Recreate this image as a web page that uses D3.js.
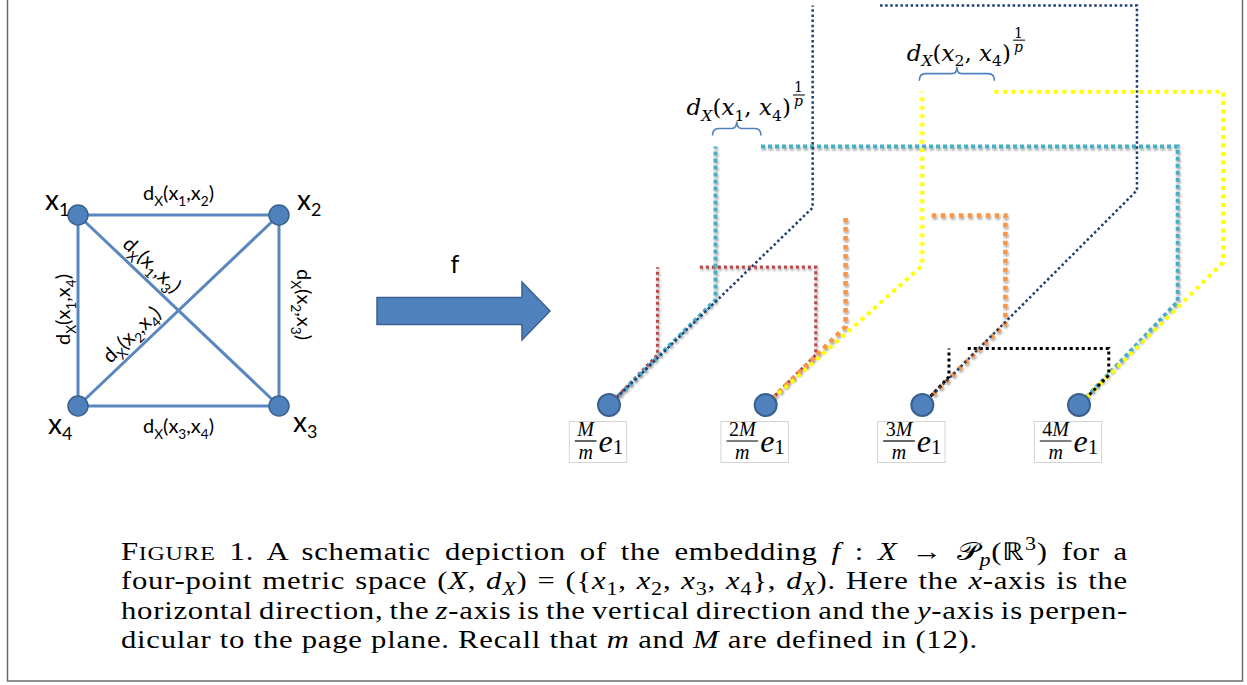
<!DOCTYPE html>
<html><head><meta charset="utf-8">
<script src="https://cdn.jsdelivr.net/npm/d3@7"></script>
<style>body{margin:0;background:#fff;} svg{display:block;}</style>
</head><body>
<svg id="c" width="1247" height="685"></svg>
<script>
// ================= DATA =================
// left: four-point metric space (unit square layout)
const graphNodeNames = ["1","2","3","4"];
const graphNodeCol = [0,1,1,0];
const graphNodeRow = [0,0,1,1];
const graphEdges = [[0,1],[1,2],[2,3],[3,0],[0,2],[1,3]];

// right: embedded points k*M/m e1
const embedK = [1,2,3,4];
const embedNumerators = ["","2","3","4"];

// dotted paths between embedded points (values in units of M/m)
const pathPairs = [[1,2],[1,3],[1,4],[2,3],[2,4],[3,4]];
const runA  = [0.31,1.30,0.68,0.51,1.00,0.17];
const riseA = [0.32,1.26,0.67,0.50,0.89,0.18];
const runB  = [0.32,1.37,0.63,0.53,0.92,0.19];
const riseB = [0.32,1.37,0.66,0.52,0.91,0.19];
const topZ  = [0.88,2.55,1.65,1.21,2.00,0.36];
const gapLen= [0.27,0.43,0.29,0.55,0.46,0.12];
const bracketPaths = [2,4];

// caption lines: [text, kind]
const captionLines = [
  [["F","n"],["IGURE","sc"],[" 1. A schematic depiction of the embedding ","n"],["f","i"],[" : ","n"],["X","i"],[" \u2192 ","n"],["\uD835\uDCAB","n"],["p","isub"],["(\u211D","n"],["3","sup"],[") for a","n"]],
  [["four-point metric space (","n"],["X","i"],[", ","n"],["d","i"],["X","isub"],[") = ({","n"],["x","i"],["1","sub"],[", ","n"],["x","i"],["2","sub"],[", ","n"],["x","i"],["3","sub"],[", ","n"],["x","i"],["4","sub"],["}, ","n"],["d","i"],["X","isub"],["). Here the ","n"],["x","i"],["-axis is the","n"]],
  [["horizontal direction, the ","n"],["z","i"],["-axis is the vertical direction and the ","n"],["y","i"],["-axis is perpen-","n"]],
  [["dicular to the page plane. Recall that ","n"],["m","i"],[" and ","n"],["M","i"],[" are defined in (12).","n"]]
];

// ================= DRAWING =================
const svg = d3.select("#c");
const defs = svg.append("defs");
const f = defs.append("filter").attr("id","shadow").attr("x","-20%").attr("y","-20%").attr("width","140%").attr("height","140%");
f.append("feDropShadow").attr("dx",1).attr("dy",2).attr("stdDeviation",1.3).attr("flood-color","#000").attr("flood-opacity",0.35);

// frame
svg.append("rect").attr("x",7.5).attr("y",-5).attr("width",1235).attr("height",686)
  .attr("fill","none").attr("stroke","#6b6b6b").attr("stroke-width",1.5);

function mathText(parent, pieces, o) {
  const t = parent.append("text").attr("font-family", o.family).attr("font-size", o.size)
    .attr("text-anchor", o.anchor || "start").attr("fill", o.fill || "#000");
  if (o.x !== undefined) t.attr("x", o.x).attr("y", o.y);
  let cur = 0;
  const ss = o.subScale || 0.7;
  pieces.forEach(([s,k]) => {
    const ts = t.append("tspan").text(s);
    let shift = 0, size = o.size;
    if (k === "sub" || k === "isub") { shift = o.size*(o.subShift||0.3); size = o.size*ss; }
    if (k === "sup") { shift = -o.size*0.4; size = o.size*ss; }
    if (k === "sc") { size = o.size*0.78; ts.text(s.toUpperCase()); }
    if (k === "i" || k === "isub") ts.attr("font-style","italic");
    ts.attr("font-size", size);
    if (shift - cur !== 0) ts.attr("dy", shift - cur);
    cur = shift;
  });
  return t;
}

// ---------- left graph ----------
const gx = d3.scaleLinear().domain([0,1]).range([78,279]);
const gy = d3.scaleLinear().domain([0,1]).range([215,406]);
const G = svg.append("g");
const np = i => [gx(graphNodeCol[i]), gy(graphNodeRow[i])];

G.selectAll("line.e").data(graphEdges).join("line")
  .attr("x1", d => np(d[0])[0]).attr("y1", d => np(d[0])[1])
  .attr("x2", d => np(d[1])[0]).attr("y2", d => np(d[1])[1])
  .attr("stroke","#5a86bf").attr("stroke-width",3);

G.selectAll("circle").data(graphNodeNames).join("circle")
  .attr("cx",(d,i)=>np(i)[0]).attr("cy",(d,i)=>np(i)[1]).attr("r",10)
  .attr("fill","#4f81bd").attr("stroke","#3a6090").attr("stroke-width",1.5);

function edgePieces(a,b){
  return [["d","n"],["X","sub"],["(x","n"],[graphNodeNames[a],"sub"],[",x","n"],[graphNodeNames[b],"sub"],[")","n"]];
}
const lblFont = {family:"Lato, 'Open Sans', sans-serif", size:20, subScale:0.68, subShift:0.28, anchor:"middle"};
graphEdges.forEach(([a,b]) => {
  const [x1,y1] = np(a), [x2,y2] = np(b);
  const lo = Math.min(a,b), hi = Math.max(a,b);
  const g = G.append("g");
  const mx = (x1+x2)/2, my = (y1+y2)/2;
  if (y1 === y2) {
    const top = y1 === gy(0);
    g.attr("transform", `translate(${mx},${top ? y1-15 : y1+27})`);
  } else if (x1 === x2) {
    const left = x1 === gx(0);
    g.attr("transform", left ? `translate(${x1-8},${my-1}) rotate(-90)` : `translate(${x1+18},${my-6}) rotate(90)`);
  } else {
    const sx = (x1 < x2) ? [x1,y1,x2,y2] : [x2,y2,x1,y1];
    const ang = Math.atan2(sx[3]-sx[1], sx[2]-sx[0]) * 180/Math.PI;
    const L = Math.hypot(sx[2]-sx[0], sx[3]-sx[1]);
    const ux = (sx[2]-sx[0])/L, uy = (sx[3]-sx[1])/L;
    const nx = uy, ny = -ux;
    const along = 88, off = 8;
    const px = sx[0] + ux*along + nx*off, py = sx[1] + uy*along + ny*off;
    g.attr("transform", `translate(${px},${py}) rotate(${ang})`);
  }
  mathText(g, edgePieces(lo,hi), Object.assign({x:0,y:0}, lblFont));
});

const nodeLabelOff = [[-33,-5],[18,-5],[14,26],[-30,28]];
graphNodeNames.forEach((n,i) => {
  const [x,y] = np(i);
  mathText(G, [["x","n"],[n,"sub"]], {family:"Lato, sans-serif", size:28, subScale:0.64, subShift:0.2,
    x: x+nodeLabelOff[i][0], y: y+nodeLabelOff[i][1]});
});

// ---------- arrow ----------
const ax0 = 377, ax1 = 522, ax2 = 550, acy = 311, bh = 13.5, hh = 29;
svg.append("polygon")
  .attr("points", [[ax0,acy-bh],[ax1,acy-bh],[ax1,acy-hh],[ax2,acy],[ax1,acy+hh],[ax1,acy+bh],[ax0,acy+bh]].map(p=>p.join(",")).join(" "))
  .attr("fill","#4f81bd").attr("stroke","#3a6090").attr("stroke-width",1.5);
svg.append("text").attr("x",455).attr("y",273).attr("text-anchor","middle")
  .attr("font-family","Lato, sans-serif").attr("font-size",25).text("f");

// ---------- right embedding ----------
const unit = 156.67;
const xS = d3.scaleLinear().domain([1,4]).range([609,1079]);
const zS = d3.scaleLinear().domain([0,1]).range([405,405-unit]);
const dS = d3.scaleLinear().domain([0,1]).range([0,unit]);

const pathStyle = [
  {c:"#b9484a", w:3.2, dash:"3 3",   sh:true},
  {c:"#1f3f73", w:2.5, dash:"2.5 2.6", sh:false},
  {c:"#4bacc6", w:4,   dash:"4 3",   sh:true},
  {c:"#f79646", w:4.5, dash:"4.5 4.5", sh:true},
  {c:"#ffff00", w:4,   dash:"4 4.5", sh:false},
  {c:"#000000", w:3,   dash:"3 3",   sh:false}
];
const drawOrder = [0,2,3,4,5,1];
const line = d3.line();
const R = svg.append("g");
const geo = pathPairs.map(([a,b],i) => {
  const A = [xS(a), zS(0)], B = [xS(b), zS(0)];
  const cA = [xS(a)+dS(runA[i]), zS(riseA[i])];
  const cB = [xS(b)+dS(runB[i]), zS(riseB[i])];
  const ty = zS(topZ[i]);
  const hs = cA[0] + dS(gapLen[i]);
  return {segA:[A,cA,[cA[0],ty]], segB:[[hs,ty],[cB[0],ty],cB,B], cA, hs, ty};
});
drawOrder.forEach(i => {
  const s = pathStyle[i], g = geo[i];
  [g.segA, g.segB].forEach(seg => {
    R.append("path").attr("d", line(seg)).attr("fill","none")
      .attr("stroke", s.c).attr("stroke-width", s.w).attr("stroke-dasharray", s.dash)
      .attr("filter", s.sh ? "url(#shadow)" : null);
  });
});

// brackets + labels
bracketPaths.forEach(i => {
  const g = geo[i];
  const x0 = g.cA[0]-3, x1 = g.hs, y = g.ty-18, m = (x0+x1)/2;
  R.append("path")
    .attr("d", `M${x0},${y+7} Q${x0},${y} ${x0+6},${y} L${m-5},${y} Q${m},${y} ${m},${y-7} Q${m},${y} ${m+5},${y} L${x1-6},${y} Q${x1},${y} ${x1},${y+7}`)
    .attr("fill","none").attr("stroke","#4f81bd").attr("stroke-width",1.6);
  const [a,b] = pathPairs[i];
  const t = mathText(R, [["d","i"],["X","isub"],["(","n"],["x","i"],[String(a),"sub"],[", ","n"],["x","i"],[String(b),"sub"],[")","n"]],
    {family:"'DejaVu Serif', serif", size:23, subScale:0.68, subShift:0.25, anchor:"middle", x:m+2, y:g.ty-31});
  const w = t.node().getComputedTextLength();
  const fx = m + 2 + w/2 + 2;
  R.append("text").attr("x",fx+5.5).attr("y",g.ty-54).attr("text-anchor","middle")
    .attr("font-family","'DejaVu Serif', serif").attr("font-size",14).text("1");
  R.append("line").attr("x1",fx).attr("x2",fx+12).attr("y1",g.ty-51.5).attr("y2",g.ty-51.5)
    .attr("stroke","#000").attr("stroke-width",1);
  R.append("text").attr("x",fx+5.5).attr("y",g.ty-40).attr("text-anchor","middle")
    .attr("font-family","'DejaVu Serif', serif").attr("font-style","italic").attr("font-size",14).text("p");
});

// nodes
R.selectAll("circle").data(embedK).join("circle")
  .attr("cx", d=>xS(d)).attr("cy", zS(0)).attr("r", 11)
  .attr("fill","#4f81bd").attr("stroke","#3a6090").attr("stroke-width",2);

// node labels (k M / m e1) in boxes
const serif = "'Liberation Serif', 'Times New Roman', serif";
embedK.forEach((k,i) => {
  const g = R.append("g");
  const box = g.append("rect");
  const num = g.append("text").attr("font-family",serif).attr("font-size",20).attr("text-anchor","middle");
  if (embedNumerators[i]) num.append("tspan").text(embedNumerators[i]);
  num.append("tspan").attr("font-style","italic").text("M");
  const nw = num.node().getComputedTextLength();
  const fw = nw + 5;
  const e = g.append("text").attr("font-family",serif).attr("font-size",32).attr("font-style","italic").text("e");
  const ew = e.node().getComputedTextLength();
  const one = g.append("text").attr("font-family",serif).attr("font-size",21).text("1");
  const ow = one.node().getComputedTextLength();
  const total = fw + 2 + ew + ow;
  const cx = xS(k) - 10;
  const sx = cx - total/2;
  num.attr("x", sx + fw/2).attr("y", 436);
  g.append("text").attr("font-family",serif).attr("font-size",20).attr("font-style","italic").attr("text-anchor","middle")
    .attr("x", sx+fw/2).attr("y",458.5).text("m");
  g.append("line").attr("x1",sx).attr("x2",sx+fw).attr("y1",441).attr("y2",441).attr("stroke","#000").attr("stroke-width",1.2);
  e.attr("x", sx+fw+2).attr("y", 452);
  one.attr("x", sx+fw+2+ew).attr("y", 454);
  box.attr("x", sx-5.5).attr("y",421.5).attr("width", total+9).attr("height",41)
    .attr("fill","none").attr("stroke","#d4d4d4").attr("stroke-width",1);
});

// ---------- caption ----------
const capBase = [560, 589, 619, 648];
const capX = 121, capRight = 1128, lastRight = 978;
const capNodes = captionLines.map((pcs,li) =>
  mathText(svg, pcs, {family:serif, size:25, subScale:0.72, subShift:0.22, x:0, y:0})
    .attr("letter-spacing", 0.6));
const w3 = capNodes[3].node().getComputedTextLength();
const sxCap = (lastRight - capX) / w3;
capNodes.forEach((t,li) => t.attr("transform", `translate(${capX},${capBase[li]}) scale(${sxCap},1)`));
[0,1,2].forEach(li => {
  const t = capNodes[li];
  const w = t.node().getComputedTextLength();
  const txt = captionLines[li].map(p=>p[0]).join("");
  const nsp = (txt.match(/ /g)||[]).length;
  t.attr("word-spacing", ((capRight - capX)/sxCap - w)/nsp);
});
</script>
</body></html>
